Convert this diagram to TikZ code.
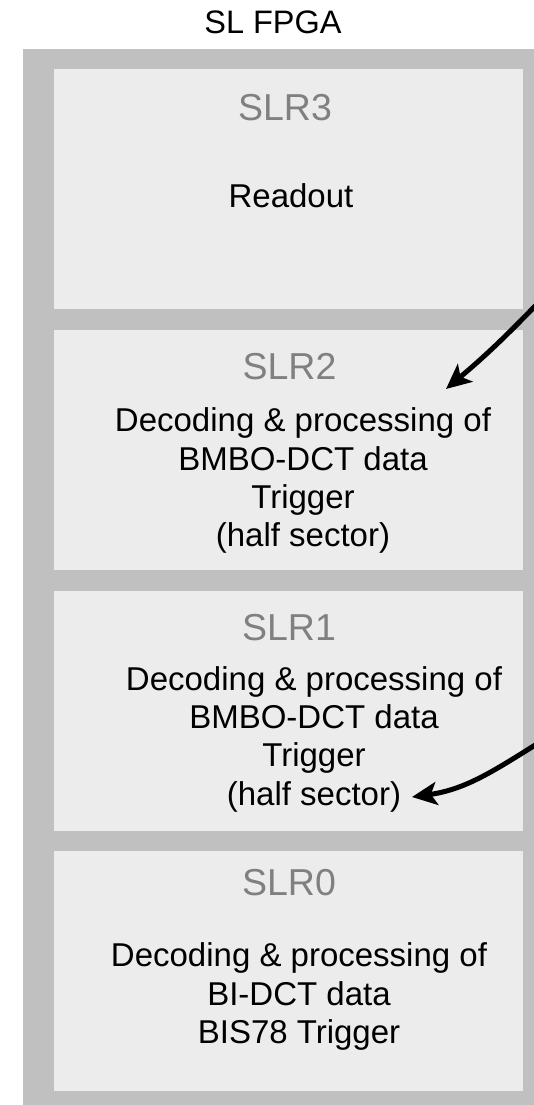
\documentclass[tikz,border=0pt]{standalone}
\usepackage{fontspec}
\setmainfont{Liberation Sans}
\usetikzlibrary{arrows.meta}
\definecolor{outergray}{HTML}{C0C0C0}
\definecolor{boxgray}{HTML}{ECECEC}
\definecolor{labelgray}{HTML}{808080}
\begin{document}
\begin{tikzpicture}[x=1pt,y=1pt,
  slrbox/.style={draw=none,fill=boxgray,minimum width=469pt,minimum height=240pt,inner sep=0pt,anchor=north west},
  slrlabel/.style={text=labelgray,font=\fontsize{37.5}{42}\selectfont,anchor=base,inner sep=0pt},
  bodytext/.style={text=black,font=\fontsize{33}{38.3}\selectfont,align=center,anchor=base,inner sep=0pt},
  arr/.style={line width=5pt,-{Stealth[length=25pt,width=23pt,inset=6pt]}}
]
\useasboundingbox (0,0) rectangle (534,-1105);
\fill[white] (0,0) rectangle (534,-1105);
% title
\node[anchor=base,inner sep=0pt,font=\fontsize{32.5}{38}\selectfont] (title) at (273,-33.3) {SL FPGA};
% outer FPGA body
\node[fill=outergray,draw=none,minimum width=530pt,minimum height=1070pt,inner sep=0pt,anchor=north west] (fpga) at (23,-49) {};
% SLR boxes
\node[slrbox] (slr3) at (54,-69) {};
\node[slrbox] (slr2) at (54,-330) {};
\node[slrbox] (slr1) at (54,-591) {};
\node[slrbox] (slr0) at (54,-851) {};
% labels
\node[slrlabel] (l3) at (285,-120.7) {SLR3};
\node[slrlabel] (l2) at (289.5,-379.3) {SLR2};
\node[slrlabel] (l1) at (289,-640) {SLR1};
\node[slrlabel] (l0) at (289,-895) {SLR0};
% bodies (base anchor = baseline of last line)
\node[bodytext] (t3) at (291,-207) {Readout};
\node[bodytext] (t2) at (303,-546.6) {Decoding \& processing of\\BMBO-DCT data\\Trigger\\(half sector)};
\node[bodytext] (t1) at (314,-805) {Decoding \& processing of\\BMBO-DCT data\\Trigger\\(half sector)};
\node[bodytext] (t0) at (299,-1043.5) {Decoding \& processing of\\BI-DCT data\\BIS78 Trigger};
% arrows
\coordinate (a1s) at (538,-303);
\coordinate (a1e) at (446,-389);
\coordinate (a2s) at (540,-742);
\coordinate (a2e) at (412,-797);
\draw[arr] (a1s) to[bend left=3] (a1e);
\draw[arr] (a2s) to[out=212,in=8] (a2e);
\end{tikzpicture}
\end{document}
